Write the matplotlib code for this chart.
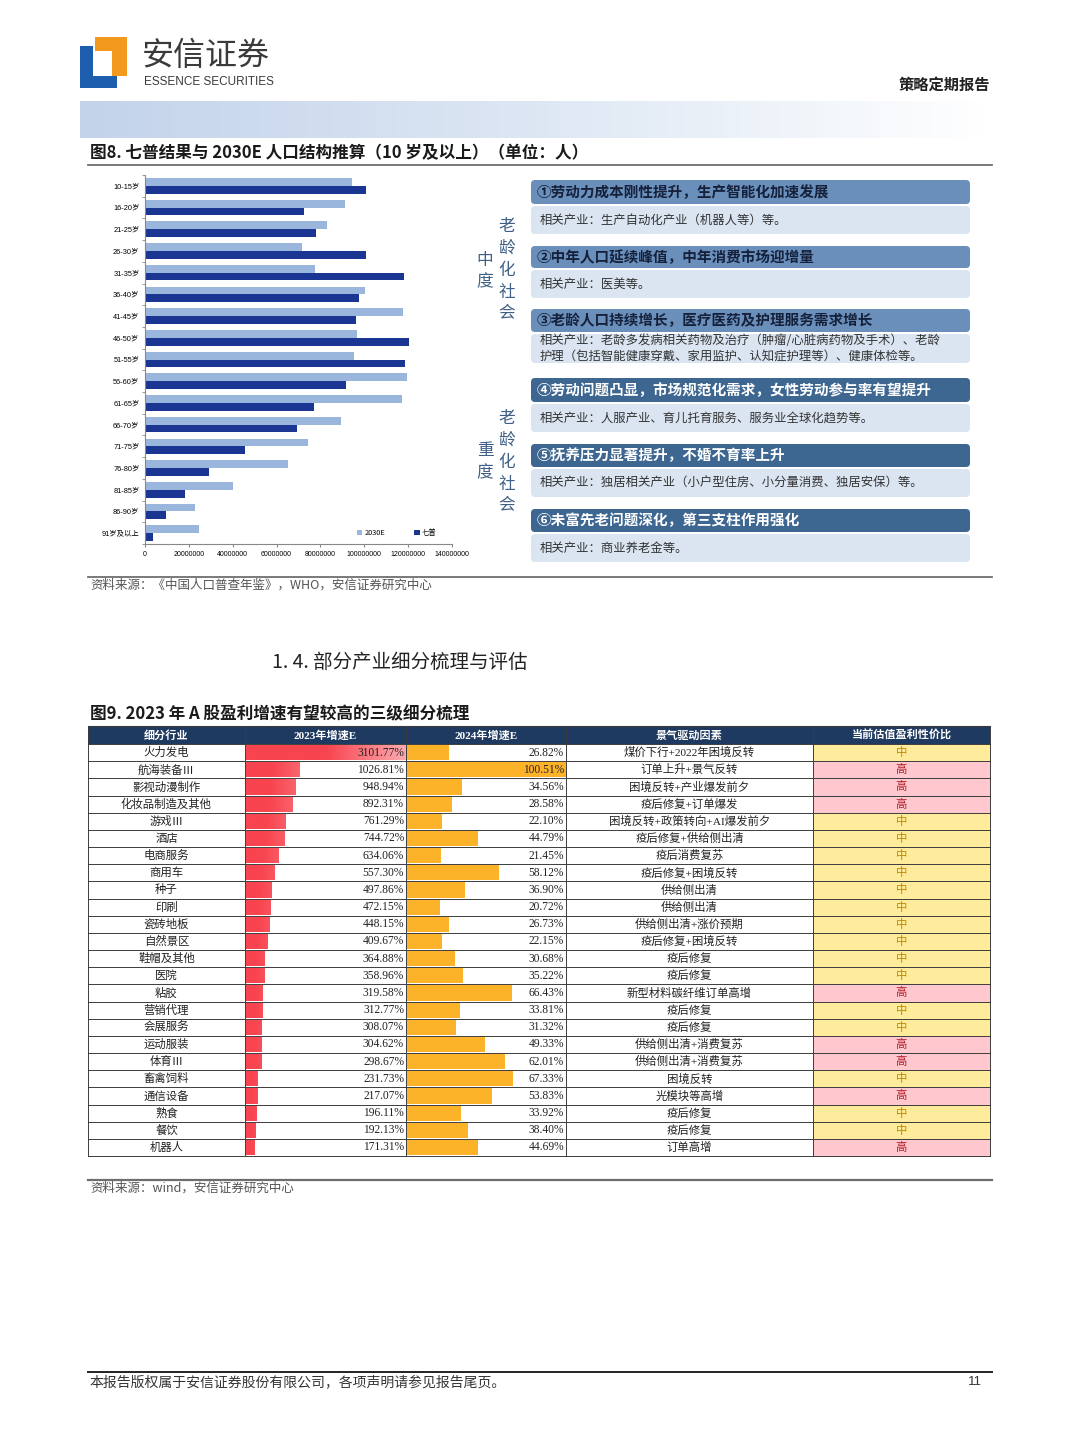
import numpy as np
import matplotlib
matplotlib.use("Agg")
import matplotlib.pyplot as plt
from matplotlib.patches import Rectangle, FancyBboxPatch, Polygon
from matplotlib.colors import LinearSegmentedColormap, to_rgb

plt.rcParams['font.family'] = ['Noto Sans CJK SC', 'DejaVu Sans']

W, H = 1080, 1440

# -------------------------------
# 图8 数据（单位：人）
# -------------------------------
age_groups = ["10-15岁", "16-20岁", "21-25岁", "26-30岁", "31-35岁", "36-40岁",
              "41-45岁", "46-50岁", "51-55岁", "56-60岁", "61-65岁", "66-70岁",
              "71-75岁", "76-80岁", "81-85岁", "86-90岁", "91岁及以上"]
pop_2030e = [94400000, 91000000, 83100000, 71800000, 77500000, 100400000,
             117500000, 96800000, 95400000, 119500000, 117000000, 89500000,
             74300000, 65300000, 40200000, 23000000, 24500000]
pop_census7 = [100900000, 72300000, 77800000, 100900000, 118200000, 97400000,
               96000000, 120400000, 118500000, 91500000, 77000000, 69500000,
               45400000, 29200000, 18400000, 9400000, 3500000]
x_ticks = [0, 20000000, 40000000, 60000000, 80000000, 100000000, 120000000, 140000000]

box_titles = ["①劳动力成本刚性提升，生产智能化加速发展",
              "②中年人口延续峰值，中年消费市场迎增量",
              "③老龄人口持续增长，医疗医药及护理服务需求增长",
              "④劳动问题凸显，市场规范化需求，女性劳动参与率有望提升",
              "⑤抚养压力显著提升，不婚不育率上升",
              "⑥未富先老问题深化，第三支柱作用强化"]
box_texts = ["相关产业：生产自动化产业（机器人等）等。",
             "相关产业：医美等。",
             "相关产业：老龄多发病相关药物及治疗（肿瘤/心脏病药物及手术）、老龄\n护理（包括智能健康穿戴、家用监护、认知症护理等）、健康体检等。",
             "相关产业：人服产业、育儿托育服务、服务业全球化趋势等。",
             "相关产业：独居相关产业（小户型住房、小分量消费、独居安保）等。",
             "相关产业：商业养老金等。"]

# -------------------------------
# 图9 数据
# -------------------------------
table_header = ["细分行业", "2023年增速E", "2024年增速E", "景气驱动因素", "当前估值盈利性价比"]
industries = ["火力发电", "航海装备Ⅲ", "影视动漫制作", "化妆品制造及其他", "游戏Ⅲ", "酒店",
              "电商服务", "商用车", "种子", "印刷", "瓷砖地板", "自然景区", "鞋帽及其他",
              "医院", "粘胶", "营销代理", "会展服务", "运动服装", "体育Ⅲ", "畜禽饲料",
              "通信设备", "熟食", "餐饮", "机器人"]
growth_2023 = [3101.77, 1026.81, 948.94, 892.31, 761.29, 744.72, 634.06, 557.30,
               497.86, 472.15, 448.15, 409.67, 364.88, 358.96, 319.58, 312.77,
               308.07, 304.62, 298.67, 231.73, 217.07, 196.11, 192.13, 171.31]
growth_2024 = [26.82, 100.51, 34.56, 28.58, 22.10, 44.79, 21.45, 58.12, 36.90, 20.72,
               26.73, 22.15, 30.68, 35.22, 66.43, 33.81, 31.32, 49.33, 62.01, 67.33,
               53.83, 33.92, 38.40, 44.69]
drivers = ["煤价下行+2022年困境反转", "订单上升+景气反转", "困境反转+产业爆发前夕",
           "疫后修复+订单爆发", "困境反转+政策转向+AI爆发前夕", "疫后修复+供给侧出清",
           "疫后消费复苏", "疫后修复+困境反转", "供给侧出清", "供给侧出清",
           "供给侧出清+涨价预期", "疫后修复+困境反转", "疫后修复", "疫后修复",
           "新型材料碳纤维订单高增", "疫后修复", "疫后修复", "供给侧出清+消费复苏",
           "供给侧出清+消费复苏", "困境反转", "光模块等高增", "疫后修复", "疫后修复", "订单高增"]
valuation = ["中", "高", "高", "高", "中", "中", "中", "中", "中", "中", "中", "中",
             "中", "中", "高", "中", "中", "高", "高", "中", "高", "中", "中", "高"]


def px_axes(x0, y0, x1, y1):
    return fig.add_axes([x0 / W, 1 - y1 / H, (x1 - x0) / W, (y1 - y0) / H])


fig = plt.figure(figsize=(W / 100, H / 100), dpi=100)
fig.patch.set_facecolor("white")

# 页面层（像素坐标，y 向下）
page = fig.add_axes([0, 0, 1, 1])
page.set_zorder(5)
page.patch.set_visible(False)
page.axis("off")

# -------------------------------
# 页眉
# -------------------------------
page.add_patch(Polygon([(95, 37), (127, 37), (127, 76), (112, 76), (112, 51), (95, 51)],
                       closed=True, color="#f39a1e", lw=0))
page.add_patch(Polygon([(80, 46), (93, 46), (93, 76), (117, 76), (117, 88), (80, 88)],
                       closed=True, color="#1d5fae", lw=0))
page.text(142, 56, "安信证券", fontsize=23, color="#3a3a3a", va="center", ha="left")
page.text(144, 82, "ESSENCE SECURITIES", fontsize=8.5, color="#3a3a3a", va="center",
          ha="left", family=["Liberation Sans Narrow", "Liberation Sans", "DejaVu Sans"])
page.text(990, 85, "策略定期报告", fontsize=11, fontweight="bold", color="#222222",
          va="center", ha="right")

band = np.linspace(0, 1, 256).reshape(1, -1)
band_cmap = LinearSegmentedColormap.from_list("band", ["#c3d3ea", "#dde7f4", "#ffffff"])
page.imshow(band, extent=[80, 990, 138, 101], aspect="auto", cmap=band_cmap, zorder=0)

page.text(90, 153, "图8. 七普结果与 2030E 人口结构推算（10 岁及以上）（单位：人）",
          fontsize=12, fontweight="bold", color="#1a1a1a", va="center", ha="left")
page.plot([88, 992], [165, 165], color="#6e6e6e", lw=1.3)

# -------------------------------
# 图8 左：条形图
# -------------------------------
ax = px_axes(145, 175, 452, 544)
ax.set_facecolor("none")
y = np.arange(len(age_groups))
bh = 0.36
ax.barh(y - bh / 2, pop_2030e, height=bh, color="#9bb6dd", label="2030E")
ax.barh(y + bh / 2, pop_census7, height=bh, color="#1b3593", label="七普")
ax.set_ylim(len(age_groups) - 0.5, -0.5)
ax.set_xlim(0, 140000000)
ax.set_yticks(y)
ax.set_yticklabels(age_groups, fontsize=5.3, family=["Liberation Sans", "Noto Sans CJK SC"])
ax.set_yticks(np.arange(len(age_groups) + 1) - 0.5, minor=True)
ax.tick_params(axis="y", which="major", length=0, pad=4)
ax.tick_params(axis="y", which="minor", length=2, color="#888888")
ax.set_xticks(x_ticks)
ax.set_xticklabels([f"{v:d}" for v in x_ticks], fontsize=5, family="Liberation Sans")
ax.tick_params(axis="x", length=2, color="#888888", pad=3)
for s in ["top", "right"]:
    ax.spines[s].set_visible(False)
for s in ["left", "bottom"]:
    ax.spines[s].set_color("#888888")
    ax.spines[s].set_linewidth(0.8)
ax.legend(loc="lower center", bbox_to_anchor=(0.82, 0.0), ncol=2, fontsize=5.3,
          frameon=False, handlelength=0.7, handleheight=0.7, columnspacing=4,
          handletextpad=0.3)

# -------------------------------
# 图8 右：说明框
# -------------------------------
side_color = "#3f5f86"
for i, ch in enumerate("老龄化社会"):
    page.text(507, 226 + i * 22, ch, fontsize=12, color=side_color, ha="center", va="center")
    page.text(507, 418 + i * 22, ch, fontsize=12, color=side_color, ha="center", va="center")
for i, ch in enumerate("中度"):
    page.text(485, 260 + i * 22, ch, fontsize=12, color=side_color, ha="center", va="center")
for i, ch in enumerate("重度"):
    page.text(485, 451 + i * 22, ch, fontsize=12, color=side_color, ha="center", va="center")

head_spans = [(180, 204), (246, 268), (309, 332), (378, 402), (444, 467), (509, 532)]
body_spans = [(206, 234), (270, 298), (334, 363), (404, 432), (469, 497), (534, 562)]
for i in range(6):
    h0, h1 = head_spans[i]
    b0, b1 = body_spans[i]
    page.add_patch(FancyBboxPatch((531, b0), 439, b1 - b0,
                                  boxstyle="round,pad=0,rounding_size=4",
                                  fc="#dbe5f2", ec="none"))
    dark = i >= 3
    page.add_patch(FancyBboxPatch((531, h0), 439, h1 - h0,
                                  boxstyle="round,pad=0,rounding_size=4",
                                  fc="#3d6690" if dark else "#6a8fbb", ec="none"))
    page.text(537, (h0 + h1) / 2, box_titles[i], fontsize=10.5, fontweight="bold",
              color="white" if dark else "#15213a", ha="left", va="center")
    page.text(540, (b0 + b1) / 2, box_texts[i], fontsize=8.9, color="#333333",
              ha="left", va="center", linespacing=1.25)

page.plot([88, 992], [577, 577], color="#6e6e6e", lw=1.3)
page.text(90, 585, "资料来源：《中国人口普查年鉴》，WHO，安信证券研究中心", fontsize=9,
          color="#555555", ha="left", va="center")

# -------------------------------
# 1.4 小节 与 图9 标题
# -------------------------------
page.text(272, 662, "1. 4. 部分产业细分梳理与评估", fontsize=14, color="#222222",
          ha="left", va="center")
page.text(90, 714, "图9. 2023 年 A 股盈利增速有望较高的三级细分梳理", fontsize=12,
          fontweight="bold", color="#1a1a1a", ha="left", va="center")

# -------------------------------
# 图9 表格
# -------------------------------
cols = [88, 245, 406, 566, 813, 990]
t_head0, t_top, t_bot = 726, 744, 1156
n = len(industries)
rh = (t_bot - t_top) / n
num_font = ["Liberation Serif", "Noto Sans CJK SC"]

page.add_patch(Rectangle((cols[0], t_head0), cols[-1] - cols[0], t_top - t_head0,
                         fc="#1f3a60", ec="none"))
for j, name in enumerate(table_header):
    page.text((cols[j] + cols[j + 1]) / 2, (t_head0 + t_top) / 2 + 0.5, name, fontsize=8,
              fontweight="bold", color="white", ha="center", va="center", family=num_font)

# 数据条
ax23 = px_axes(cols[1], t_top, cols[2], t_bot)
ax24 = px_axes(cols[2], t_top, cols[3], t_bot)
rows = np.arange(n)
frac23 = np.array(growth_2023) / max(growth_2023)
frac24 = np.array(growth_2024) / max(growth_2024)
bars23 = ax23.barh(rows, frac23, height=0.9, left=0.005, color="none")
red = np.array(to_rgb("#f8444f"))
for b, f in zip(bars23, frac23):
    end = red + (np.ones(3) - red) * 0.55 * f
    cm = LinearSegmentedColormap.from_list("g", [red, red, end])
    im = ax23.imshow(np.linspace(0, 1, 128).reshape(1, -1), cmap=cm, aspect="auto",
                     extent=[b.get_x(), b.get_x() + b.get_width(),
                             b.get_y() + b.get_height(), b.get_y()])
    im.set_clip_path(b)
ax24.barh(rows, frac24, height=0.9, left=0.005, color="#fcb32a")
for a in (ax23, ax24):
    a.set_xlim(0, 1.005)
    a.set_ylim(n - 0.5, -0.5)
    a.axis("off")

val_txt = {"中": "#b88a00", "高": "#b0202a"}
fill = {"中": "#ffeb9c", "高": "#ffc7ce"}
for i in range(n):
    yc = t_top + (i + 0.5) * rh
    page.add_patch(Rectangle((cols[4], t_top + i * rh), cols[5] - cols[4], rh,
                             fc=fill[valuation[i]], ec="none", zorder=0))
    page.text((cols[0] + cols[1]) / 2, yc, industries[i], fontsize=8.2, color="#222222",
              ha="center", va="center")
    page.text(cols[2] - 2, yc, f"{growth_2023[i]:.2f}%", fontsize=8.3, color="#222222",
              ha="right", va="center", family=num_font)
    page.text(cols[3] - 2, yc, f"{growth_2024[i]:.2f}%", fontsize=8.3, color="#222222",
              ha="right", va="center", family=num_font)
    page.text((cols[3] + cols[4]) / 2, yc, drivers[i], fontsize=8.2, color="#222222",
              ha="center", va="center", family=num_font)
    page.text((cols[4] + cols[5]) / 2, yc, valuation[i], fontsize=8.2,
              color=val_txt[valuation[i]], ha="center", va="center")

for i in range(n + 1):
    yl = t_top + i * rh
    page.plot([cols[0], cols[-1]], [yl, yl], color="#3c3c3c", lw=0.7)
page.plot([cols[0], cols[-1]], [t_head0, t_head0], color="#3c3c3c", lw=0.8)
for xc in cols:
    page.plot([xc, xc], [t_head0, t_bot], color="#3c3c3c", lw=0.7)

page.plot([88, 992], [1180, 1180], color="#6e6e6e", lw=1.6)
page.text(90, 1188, "资料来源：wind，安信证券研究中心", fontsize=9, color="#555555",
          ha="left", va="center")

# -------------------------------
# 页脚
# -------------------------------
page.plot([88, 992], [1372, 1372], color="#222222", lw=1.4)
page.text(90, 1382, "本报告版权属于安信证券股份有限公司，各项声明请参见报告尾页。",
          fontsize=10, color="#333333", ha="left", va="center")
page.text(982, 1382, "11", fontsize=9.5, color="#333333", ha="right", va="center",
          family="Liberation Sans")

page.set_xlim(0, W)
page.set_ylim(H, 0)

fig.savefig("out.png", dpi=100)
